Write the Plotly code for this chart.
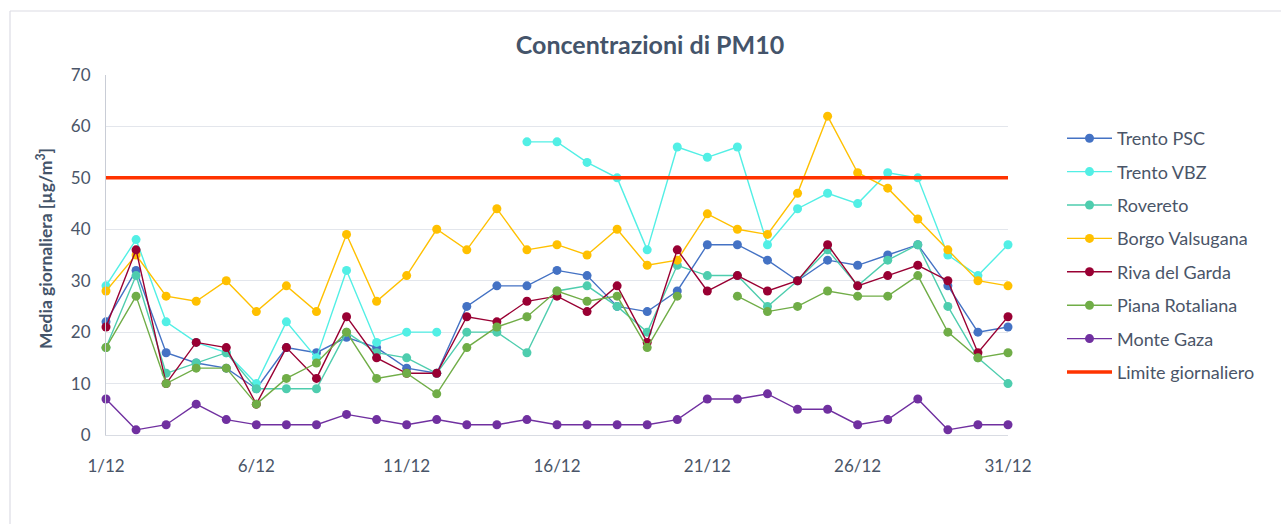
import plotly.graph_objects as go

days = ["1/12", "2/12", "3/12", "4/12", "5/12", "6/12", "7/12", "8/12", "9/12", "10/12",
        "11/12", "12/12", "13/12", "14/12", "15/12", "16/12", "17/12", "18/12", "19/12", "20/12",
        "21/12", "22/12", "23/12", "24/12", "25/12", "26/12", "27/12", "28/12", "29/12", "30/12", "31/12"]
tick_labels = ["1/12", "6/12", "11/12", "16/12", "21/12", "26/12", "31/12"]

trento_psc = [22, 32, 16, 14, 13, 9, 17, 16, 19, 17, 13, 12, 25, 29, 29, 32, 31, 25, 24, 28,
              37, 37, 34, 30, 34, 33, 35, 37, 29, 20, 21]
trento_vbz = [29, 38, 22, 18, 16, 10, 22, 15, 32, 18, 20, 20, None, None, 57, 57, 53, 50, 36, 56,
              54, 56, 37, 44, 47, 45, 51, 50, 35, 31, 37]
rovereto = [17, 31, 12, 14, 16, 9, 9, 9, 20, 16, 15, 12, 20, 20, 16, 28, 29, 25, 20, 33,
            31, 31, 25, 30, 36, 29, 34, 37, 25, 15, 10]
borgo = [28, 35, 27, 26, 30, 24, 29, 24, 39, 26, 31, 40, 36, 44, 36, 37, 35, 40, 33, 34,
         43, 40, 39, 47, 62, 51, 48, 42, 36, 30, 29]
riva = [21, 36, 10, 18, 17, 6, 17, 11, 23, 15, 12, 12, 23, 22, 26, 27, 24, 29, 18, 36,
        28, 31, 28, 30, 37, 29, 31, 33, 30, 16, 23]
piana = [17, 27, 10, 13, 13, 6, 11, 14, 20, 11, 12, 8, 17, 21, 23, 28, 26, 27, 17, 27,
         None, 27, 24, 25, 28, 27, 27, 31, 20, 15, 16]
monte_gaza = [7, 1, 2, 6, 3, 2, 2, 2, 4, 3, 2, 3, 2, 2, 3, 2, 2, 2, 2, 3,
              7, 7, 8, 5, 5, 2, 3, 7, 1, 2, 2]
limite = [50] * len(days)

series = [
    ("Trento PSC", trento_psc, "#4472C4"),
    ("Trento VBZ", trento_vbz, "#52EFE5"),
    ("Rovereto", rovereto, "#4ECDAE"),
    ("Borgo Valsugana", borgo, "#FFC000"),
    ("Riva del Garda", riva, "#990033"),
    ("Piana Rotaliana", piana, "#70AD47"),
    ("Monte Gaza", monte_gaza, "#7030A0"),
]

FONT = "Lato"
TXT = "#4A5568"

fig = go.Figure()
for name, vals, col in series:
    fig.add_trace(go.Scatter(
        x=days, y=vals, name=name, mode="lines+markers",
        line=dict(color=col, width=1.4),
        marker=dict(color=col, size=9),
        cliponaxis=False, legendgroup=name,
    ))
fig.add_trace(go.Scatter(
    x=days, y=limite, name="Limite giornaliero", mode="lines",
    line=dict(color="#FF3300", width=3.5),
    cliponaxis=False, legendgroup="limite",
))

W, H = 1281, 524
L, R, T, B = 106, 273, 75, 89
pw, ph = W - L - R, H - T - B

def px_to_paper_x(px):
    return (px - L) / pw

def px_to_paper_y(py):
    return (H - B - py) / ph

fig.update_layout(
    width=W, height=H,
    margin=dict(l=L, r=R, t=T, b=B),
    paper_bgcolor="white", plot_bgcolor="white",
    font=dict(family=FONT, color=TXT, size=17),
    title=dict(text="<b>Concentrazioni di PM10</b>", x=650 / W, xanchor="center",
               y=1 - 45 / H, yanchor="middle",
               font=dict(family=FONT, size=25, color="#44546A")),
    showlegend=True,
    legend=dict(x=px_to_paper_x(1062), xanchor="left", y=px_to_paper_y(120), yanchor="top",
                font=dict(family=FONT, size=18, color=TXT),
                tracegroupgap=7, traceorder="grouped", itemwidth=45,
                bgcolor="rgba(0,0,0,0)"),
    xaxis=dict(
        type="category", categoryorder="array", categoryarray=days,
        range=[0, 30], tickmode="array", tickvals=tick_labels, ticktext=tick_labels,
        showgrid=False, showline=True, linecolor="#D9DCE3", linewidth=1,
        ticks="", ticklabelstandoff=16, tickfont=dict(size=17, color=TXT),
        zeroline=False, fixedrange=True,
    ),
    yaxis=dict(
        range=[0, 70], dtick=10, tick0=0,
        showgrid=True, gridcolor="#E3E6EC", gridwidth=1,
        showline=True, linecolor="#C9CDD6", linewidth=1,
        ticks="", ticklabelstandoff=11, tickfont=dict(size=17, color=TXT),
        zeroline=False,
    ),
    annotations=[dict(
        text="<b>Media giornaliera [µg/m<sup>3</sup>]</b>", textangle=-90,
        x=px_to_paper_x(45), y=px_to_paper_y(249), xref="paper", yref="paper",
        xanchor="center", yanchor="middle", showarrow=False,
        font=dict(family=FONT, size=17.5, color="#44546A"),
    )],
    shapes=[
        dict(type="line", xref="paper", yref="paper",
             x0=px_to_paper_x(10), x1=px_to_paper_x(10),
             y0=px_to_paper_y(11), y1=px_to_paper_y(530),
             line=dict(color="#DCDCE4", width=1.2)),
        dict(type="line", xref="paper", yref="paper",
             x0=px_to_paper_x(10), x1=px_to_paper_x(1290),
             y0=px_to_paper_y(11), y1=px_to_paper_y(11),
             line=dict(color="#DCDCE4", width=1.2)),
    ],
)

fig.write_html("out.html", config={"displayModeBar": False},
               post_script="document.body.style.margin='0';document.body.style.overflow='hidden';")
